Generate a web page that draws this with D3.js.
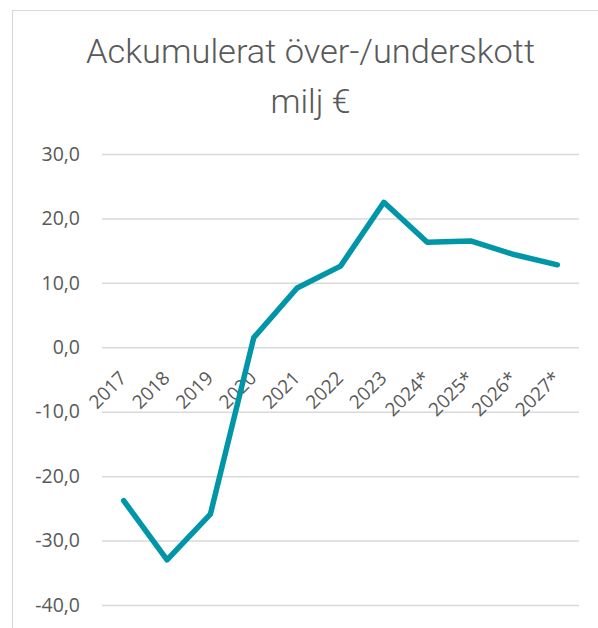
<!DOCTYPE html>
<html><head><meta charset="utf-8">
<script src="https://cdn.jsdelivr.net/npm/d3@7"></script>
<style>body{margin:0;background:#fff}svg{display:block}</style>
</head><body>
<svg id="c" width="598" height="628"></svg>
<script>
const categories = ["2017","2018","2019","2020","2021","2022","2023","2024*","2025*","2026*","2027*"];
const values = [-23.8, -33.0, -25.9, 1.5, 9.2, 12.6, 22.5, 16.3, 16.5, 14.4, 12.8];
const yTicks = [30, 20, 10, 0, -10, -20, -30, -40];
const titleLines = ["Ackumulerat över-/underskott", "milj €"];
const titleWidths = [449, 80];

const svg = d3.select("#c");
const grey = "#595959";

// chart area border
svg.append("path").attr("d","M12.5,628 L12.5,10.5 L598,10.5")
  .attr("fill","none").attr("stroke","#d9d9d9").attr("stroke-width",1.2);

const x = d3.scaleBand().domain(categories).range([102, 579]);
const y = d3.scaleLinear().domain([-40, 30]).range([605, 154]);

// title
svg.append("g").selectAll("text").data(titleLines).join("text")
  .attr("x", 310.5).attr("y", (d,i)=> 63 + i*50)
  .attr("text-anchor","middle")
  .attr("font-family","Roboto,'Open Sans',sans-serif")
  .attr("font-weight",300)
  .attr("textLength",(d,i)=>titleWidths[i]).attr("lengthAdjust","spacingAndGlyphs")
  .attr("font-size", 32.5).attr("fill", grey).text(d=>d);

// gridlines + y tick labels
const yAxis = d3.axisLeft(y).tickValues(yTicks).tickSize(-(579-102)).tickPadding(22)
  .tickFormat(d => d3.format(".1f")(d).replace(".", ",").replace("\u2212","-"));
const gy = svg.append("g").attr("transform","translate(102,0)").call(yAxis);
gy.select(".domain").remove();
gy.selectAll(".tick line").attr("stroke","#d9d9d9").attr("stroke-width",1.5);
gy.selectAll(".tick text").attr("fill",grey).attr("font-size",19.5)
  .attr("font-family","'Open Sans','Noto Sans',sans-serif");

// category labels (rotated)
svg.append("g").selectAll("text").data(categories).join("text")
  .attr("transform", d => `translate(${x(d)+x.bandwidth()/2+4},${y(0)+32}) rotate(-45)`)
  .attr("text-anchor","end")
  .attr("font-family","'Open Sans','Noto Sans',sans-serif")
  .attr("font-size",19).attr("fill",grey).text(d=>d);

// line
const line = d3.line()
  .x((d,i)=> x(categories[i]) + x.bandwidth()/2)
  .y(d => y(d));
svg.append("path").datum(values).attr("d", line)
  .attr("fill","none").attr("stroke","#0096a8").attr("stroke-width",5.5)
  .attr("stroke-linejoin","round").attr("stroke-linecap","round");
</script>
</body></html>
